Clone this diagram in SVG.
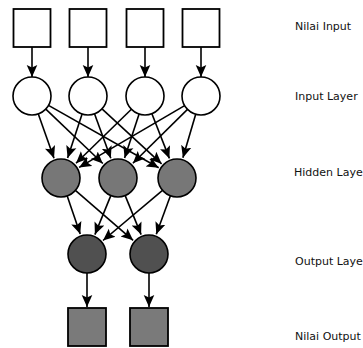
<svg xmlns="http://www.w3.org/2000/svg" width="363" height="348" viewBox="0 0 363 348">
<defs>
<marker id="ah" markerUnits="userSpaceOnUse" markerWidth="13" markerHeight="13" viewBox="0 0 13 13" refX="12" refY="6.5" orient="auto">
<path d="M0,1.2 L12,6.5 L0,11.8 L2.5,6.5 Z" fill="#000"/>
</marker>
<style>
.sq{fill:#fff;stroke:#000;stroke-width:1.8}
.osq{fill:#7a7a7a;stroke:#000;stroke-width:1.8}
.in{fill:#fff;stroke:#000;stroke-width:1.6}
.hid{fill:#777;stroke:#000;stroke-width:1.6}
.out{fill:#505050;stroke:#000;stroke-width:1.6}
.c line{stroke:#000;stroke-width:1.6;marker-end:url(#ah)}
text{font-family:"DejaVu Sans","Liberation Sans",sans-serif;font-size:11px;fill:#111}
</style>
</defs>
<g id="connectors" class="c">
<line x1="32" y1="47" x2="32" y2="77"/>
<line x1="88" y1="47" x2="88" y2="77"/>
<line x1="145" y1="47" x2="145" y2="77"/>
<line x1="201" y1="47" x2="201" y2="77"/>
<line x1="38.3" y1="113.9" x2="54.0" y2="158.2"/>
<line x1="45.8" y1="109.1" x2="102.8" y2="163.5"/>
<line x1="48.5" y1="105.4" x2="158.7" y2="167.7"/>
<line x1="82.1" y1="114.0" x2="67.6" y2="158.1"/>
<line x1="94.5" y1="113.8" x2="110.8" y2="158.3"/>
<line x1="102.0" y1="108.9" x2="161.6" y2="163.8"/>
<line x1="131.4" y1="109.3" x2="76.0" y2="163.3"/>
<line x1="139.1" y1="114.0" x2="124.6" y2="158.1"/>
<line x1="151.9" y1="113.7" x2="169.4" y2="158.4"/>
<line x1="184.6" y1="105.6" x2="79.1" y2="167.4"/>
<line x1="187.5" y1="109.4" x2="132.9" y2="163.2"/>
<line x1="195.7" y1="114.2" x2="182.9" y2="157.8"/>
<line x1="67.2" y1="196.0" x2="80.2" y2="234.1"/>
<line x1="75.4" y1="190.4" x2="133.1" y2="240.3"/>
<line x1="110.8" y1="195.6" x2="94.9" y2="234.6"/>
<line x1="125.2" y1="195.6" x2="141.1" y2="234.6"/>
<line x1="162.5" y1="190.3" x2="103.0" y2="240.5"/>
<line x1="170.4" y1="195.8" x2="156.3" y2="234.3"/>
<line x1="87" y1="273" x2="87" y2="307"/>
<line x1="149" y1="273" x2="149" y2="307"/>
</g>
<g id="nilai-input-1"><rect class="sq" x="13.5" y="9" width="37" height="38"/></g>
<g id="nilai-input-2"><rect class="sq" x="69.5" y="9" width="37" height="38"/></g>
<g id="nilai-input-3"><rect class="sq" x="126.5" y="9" width="37" height="38"/></g>
<g id="nilai-input-4"><rect class="sq" x="182.5" y="9" width="37" height="38"/></g>
<g id="input-1"><circle class="in" cx="32" cy="96" r="19"/></g>
<g id="input-2"><circle class="in" cx="88" cy="96" r="19"/></g>
<g id="input-3"><circle class="in" cx="145" cy="96" r="19"/></g>
<g id="input-4"><circle class="in" cx="201" cy="96" r="19"/></g>
<g id="hidden-1"><circle class="hid" cx="61" cy="178" r="19"/></g>
<g id="hidden-2"><circle class="hid" cx="118" cy="178" r="19"/></g>
<g id="hidden-3"><circle class="hid" cx="177" cy="178" r="19"/></g>
<g id="output-1"><circle class="out" cx="87" cy="254" r="19"/></g>
<g id="output-2"><circle class="out" cx="149" cy="254" r="19"/></g>
<g id="nilai-output-1"><rect class="osq" x="68" y="308" width="38" height="38"/></g>
<g id="nilai-output-2"><rect class="osq" x="130" y="308" width="38" height="38"/></g>
<g id="labels">
<text x="295" y="30">Nilai Input</text>
<text x="295" y="100">Input Layer</text>
<text x="294" y="176">Hidden Layer</text>
<text x="295" y="265">Output Layer</text>
<text x="295" y="340">Nilai Output</text>
</g>
</svg>
